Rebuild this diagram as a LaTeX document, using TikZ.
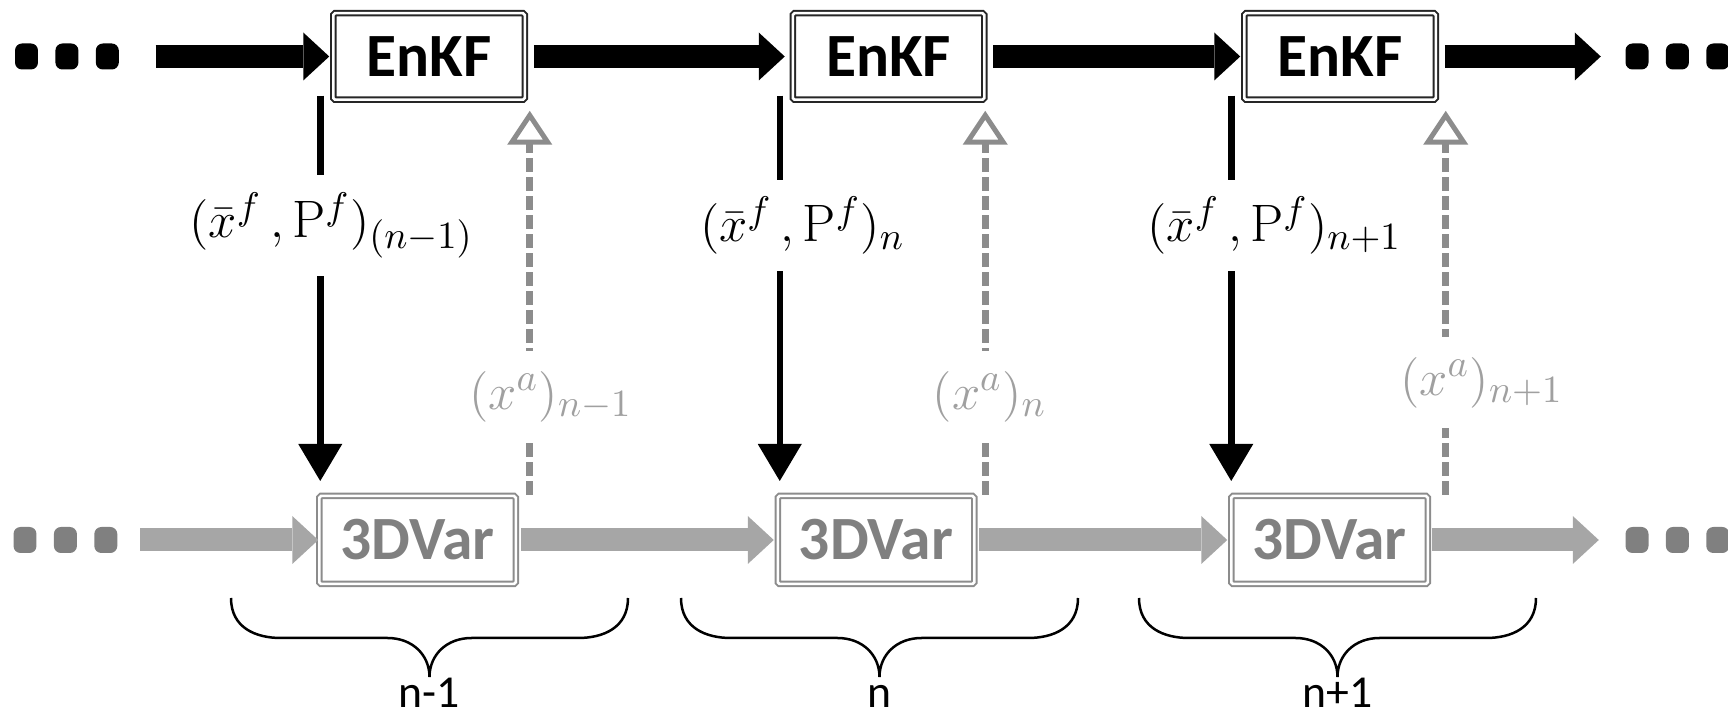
\documentclass[tikz,border=0pt]{standalone}
\usepackage{amsmath}
\usepackage{fontspec}
\usepackage{tikz}
\usetikzlibrary{arrows.meta,positioning}

\newfontfamily\calibri{Carlito}
\definecolor{lightgr}{HTML}{A6A6A6}
\definecolor{midgr}{HTML}{808080}
\definecolor{boxgr}{HTML}{8C8C8C}
\definecolor{labgr}{HTML}{A0A0A0}

\begin{document}
\begin{tikzpicture}[
    enkfbox/.style={rectangle, draw=black!85, double, double distance=0.025cm, line width=0.02cm,
      rounded corners=0.5pt, inner sep=0, minimum width=1.915cm, minimum height=0.865cm,
      font={\calibri\bfseries\fontsize{17.5}{20}\selectfont}},
    varbox/.style={enkfbox, draw=boxgr, text=midgr, minimum width=1.965cm, minimum height=0.88cm},
    dotmark/.style={rectangle, rounded corners=0.07cm, fill=black, minimum width=0.23cm, minimum height=0.26cm, inner sep=0},
    bigarrow/.style={line width=0.23cm, -{Triangle[length=0.26cm,width=0.48cm,line width=0pt]},
      shorten <=0.08cm, shorten >=0.03cm},
    fcast/.style={line width=0.065cm, -{Triangle[length=0.37cm,width=0.44cm,line width=0pt]}, shorten >=0.14cm},
    anal/.style={line width=0.07cm, boxgr, dash pattern=on 0.14cm off 0.05cm,
      -{Triangle[open,length=0.34cm,width=0.44cm,line width=0.05cm]}, shorten >=0.1cm},
    flab/.style={fill=white, anchor=west, inner xsep=0.04cm, inner ysep=0.17cm, font=\fontsize{15}{18}\selectfont},
    alab/.style={flab, text=labgr, inner ysep=0.2cm},
    brc/.style={line width=0.025cm},
  ]
  \useasboundingbox (0,0) rectangle (17.28,-7.16);

  % EnKF row
  \node[enkfbox] (e1) at (4.29,-0.565) {EnKF};
  \node[enkfbox] (e2) [right=2.66cm of e1] {EnKF};
  \node[enkfbox] (e3) [right=2.58cm of e2] {EnKF};

  % 3DVar row
  \node[varbox] (v1) at (4.175,-5.40) {3DVar};
  \node[varbox] (v2) [right=2.60cm of v1] {3DVar};
  \node[varbox] (v3) [right=2.55cm of v2] {3DVar};

  % dots
  \node[dotmark] (dl1) at (0.265,-0.565) {};
  \node[dotmark] (dl2) [right=0.16cm of dl1] {};
  \node[dotmark] (dl3) [right=0.16cm of dl2] {};
  \node[dotmark] (dr1) at (16.37,-0.565) {};
  \node[dotmark] (dr2) [right=0.16cm of dr1] {};
  \node[dotmark] (dr3) [right=0.16cm of dr2] {};
  \node[dotmark, fill=midgr] (gl1) at (0.25,-5.40) {};
  \node[dotmark, fill=midgr] (gl2) [right=0.16cm of gl1] {};
  \node[dotmark, fill=midgr] (gl3) [right=0.16cm of gl2] {};
  \node[dotmark, fill=midgr] (gr1) at (16.37,-5.40) {};
  \node[dotmark, fill=midgr] (gr2) [right=0.16cm of gr1] {};
  \node[dotmark, fill=midgr] (gr3) [right=0.16cm of gr2] {};

  \draw[bigarrow, shorten <=0.36cm] (dl3.east) -- (e1.west);
  \draw[bigarrow, shorten >=0.07cm] (e1.east) -- (e2.west);
  \draw[bigarrow] (e2.east) -- (e3.west);
  \draw[bigarrow, shorten >=0.24cm] (e3.east) -- (dr1.west);

  \draw[bigarrow, lightgr, shorten <=0.22cm, shorten >=0cm] (gl3.east) -- (v1.west);
  \draw[bigarrow, lightgr, shorten <=0.04cm] (v1.east) -- (v2.west);
  \draw[bigarrow, lightgr, shorten <=0.04cm] (v2.east) -- (v3.west);
  \draw[bigarrow, lightgr, shorten <=0.03cm, shorten >=0.26cm] (v3.east) -- (gr1.west);

  % forecast mean and covariance
  \coordinate (f1) at ([xshift=-0.12cm,yshift=0.05cm]e1.south west);
  \coordinate (f2) at ([xshift=-0.12cm,yshift=0.05cm]e2.south west);
  \coordinate (f3) at ([xshift=-0.12cm,yshift=0.05cm]e3.south west);
  \draw[fcast] (f1) -- (f1 |- v1.north) node[flab, pos=0.325, xshift=-1.38cm] {$(\bar{x}^{f}\,,\mathrm{P}^{f})_{(n-1)}$};
  \draw[fcast] (f2) -- (f2 |- v2.north) node[flab, pos=0.325, xshift=-0.87cm] {$(\bar{x}^{f}\,,\mathrm{P}^{f})_{n}$};
  \draw[fcast] (f3) -- (f3 |- v3.north) node[flab, pos=0.325, xshift=-0.91cm] {$(\bar{x}^{f}\,,\mathrm{P}^{f})_{n+1}$};

  % analysis back to EnKF
  \coordinate (a1) at ([xshift=0.04cm]e1.south east);
  \coordinate (a2) at (e2.south east);
  \coordinate (a3) at ([xshift=0.09cm]e3.south east);
  \draw[anal] (a1 |- v1.north) -- (a1) node[alab, pos=0.25, xshift=-0.68cm] {$(x^{a})_{n-1}$};
  \draw[anal] (a2 |- v2.north) -- (a2) node[alab, pos=0.25, xshift=-0.60cm] {$(x^{a})_{n}$};
  \draw[anal] (a3 |- v3.north) -- (a3) node[alab, pos=0.285, xshift=-0.53cm] {$(x^{a})_{n+1}$};

  % cycles
  \foreach \x/\lab [count=\i] in {2.31/n-1, 6.81/n, 11.39/n+1} {
    \draw[brc] (\x,-5.98) .. controls +(0,-0.30) and +(-0.25,0) .. ++(0.5,-0.40)
      -- ++(1.065,0) .. controls +(0.25,0) and +(0,0.22) .. ++(0.42,-0.39)
      .. controls +(0,0.22) and +(-0.25,0) .. ++(0.42,0.39)
      -- ++(1.065,0) .. controls +(0.25,0) and +(0,-0.30) .. ++(0.5,0.40);
    \node[font={\calibri\fontsize{13}{15}\selectfont}, anchor=base, inner sep=0.5pt] (t\i) at (\x+1.985,-7.07) {\lab};
  }
\end{tikzpicture}
\end{document}
